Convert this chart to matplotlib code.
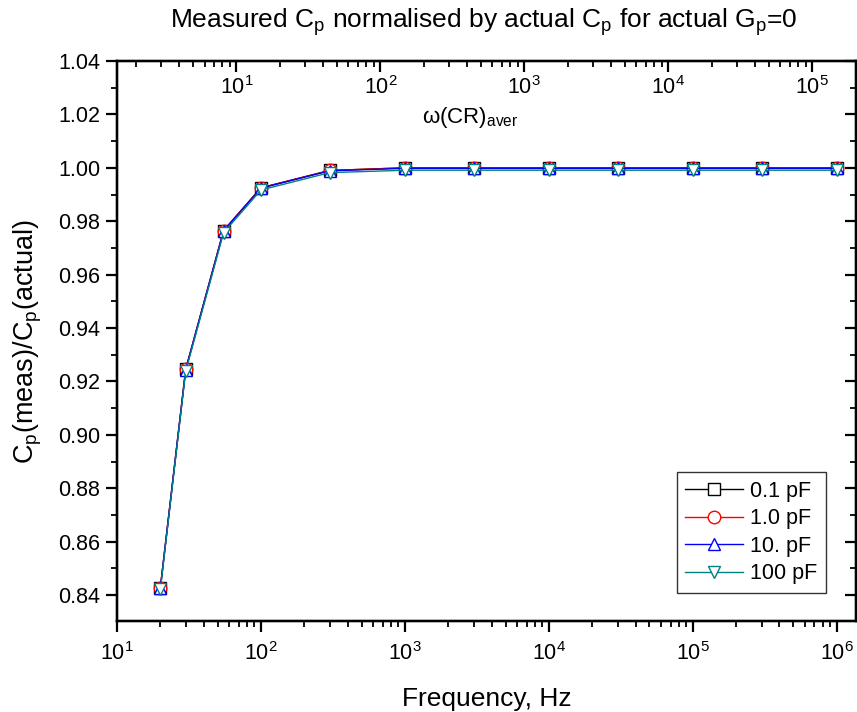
import matplotlib
matplotlib.use("Agg")
import matplotlib.pyplot as plt
from matplotlib.ticker import LogLocator, MultipleLocator, NullFormatter, FormatStrFormatter

plt.rcParams["font.family"] = ["Liberation Sans", "DejaVu Sans"]
plt.rcParams["mathtext.fontset"] = "custom"
plt.rcParams["mathtext.rm"] = "Liberation Sans"
plt.rcParams["mathtext.it"] = "Liberation Sans"

freq = [20, 30, 55, 100, 300, 1e3, 3e3, 1e4, 3e4, 1e5, 3e5, 1e6]
c_01 = [0.8427, 0.9245, 0.9765, 0.9925, 0.9990, 1.0000, 1.0000, 1.0000, 1.0000, 1.0000, 1.0000, 1.0000]
c_10 = [0.8427, 0.9245, 0.9765, 0.9925, 0.9990, 1.0000, 1.0000, 1.0000, 1.0000, 1.0000, 1.0000, 1.0000]
c_100 = [0.8426, 0.9244, 0.9764, 0.9924, 0.9989, 0.9998, 0.9998, 0.9998, 0.9998, 0.9998, 0.9998, 0.9998]
c_1000 = [0.8421, 0.9238, 0.9757, 0.9917, 0.9982, 0.9991, 0.9991, 0.9991, 0.9991, 0.9991, 0.9991, 0.9991]
omega_factor = 0.148  # omega*(CR)_aver per Hz

SERIES = [
    ("0.1 pF", c_01, "black", "s"),
    ("1.0 pF", c_10, "red", "o"),
    ("10. pF", c_100, "blue", "^"),
    ("100 pF", c_1000, "#008080", "v"),
]

fig = plt.figure(figsize=(8.57, 7.12), dpi=100)
ax = fig.add_axes([117 / 857, 91 / 712, 739 / 857, 560 / 712])

for label, vals, color, mk in SERIES:
    ax.plot(freq, vals, color=color, lw=1.0, marker=mk, ms=9, mfc="white",
            mec=color, mew=1.0, label=label)

ax.set_xscale("log")
xlim = (10, 1.36e6)
ax.set_xlim(*xlim)
ax.set_ylim(0.8303, 1.04)
ax.yaxis.set_major_locator(MultipleLocator(0.02))
ax.yaxis.set_minor_locator(MultipleLocator(0.01))
ax.yaxis.set_major_formatter(FormatStrFormatter("%.2f"))
ax.xaxis.set_major_locator(LogLocator(base=10, numticks=20))
ax.xaxis.set_minor_locator(LogLocator(base=10, subs=range(2, 10), numticks=50))
ax.xaxis.set_minor_formatter(NullFormatter())

for s in ax.spines.values():
    s.set_linewidth(1.6)
ax.tick_params(axis="both", which="major", direction="out", length=8, width=1.6,
               labelsize=15.5, top=False)
ax.tick_params(axis="both", which="minor", direction="out", length=4.5, width=1.3,
               top=False)
ax.tick_params(axis="y", pad=4)
ax.tick_params(axis="x", pad=7)

# right-hand ticks point inward
axr = ax.twinx()
axr.set_ylim(ax.get_ylim())
axr.yaxis.set_major_locator(MultipleLocator(0.02))
axr.yaxis.set_minor_locator(MultipleLocator(0.01))
axr.tick_params(axis="y", which="major", direction="in", length=8, width=1.6,
                labelright=False)
axr.tick_params(axis="y", which="minor", direction="in", length=4.5, width=1.3)

# top axis: omega*(CR)_aver
ax2 = ax.twiny()
ax2.set_xscale("log")
ax2.set_xlim(xlim[0] * omega_factor, xlim[1] * omega_factor)
ax2.xaxis.set_major_locator(LogLocator(base=10, numticks=20))
ax2.xaxis.set_minor_locator(LogLocator(base=10, subs=range(2, 10), numticks=50))
ax2.xaxis.set_minor_formatter(NullFormatter())
ax2.tick_params(axis="x", which="major", direction="in", length=8, width=1.6,
                labelsize=15.5, pad=-27)
ax2.tick_params(axis="x", which="minor", direction="in", length=4.5, width=1.3)
for a in (axr, ax2):
    for s in a.spines.values():
        s.set_linewidth(1.6)
ax.text(0.478, 0.9, r"$\omega$(CR)$_{\rm aver}$", transform=ax.transAxes,
        ha="center", va="center", fontsize=16)

ax.set_xlabel("Frequency, Hz", fontsize=19, labelpad=16)
ax.set_ylabel(r"C$_{\rm p}$(meas)/C$_{\rm p}$(actual)", fontsize=19.5, labelpad=10)
fig.text(0.565, 1 - 22 / 712,
         r"Measured C$_{\rm p}$ normalised by actual C$_{\rm p}$ for actual G$_{\rm p}$=0",
         ha="center", va="center", fontsize=19)

leg = ax.legend(loc="lower right", bbox_to_anchor=(0.959, 0.05), fontsize=15.5,
                frameon=True, fancybox=False, edgecolor="black", handlelength=2.7,
                handletextpad=0.3, labelspacing=0.3, borderpad=0.4,
                borderaxespad=0)
leg.get_frame().set_linewidth(1.0)

fig.savefig("out.png", dpi=100)
